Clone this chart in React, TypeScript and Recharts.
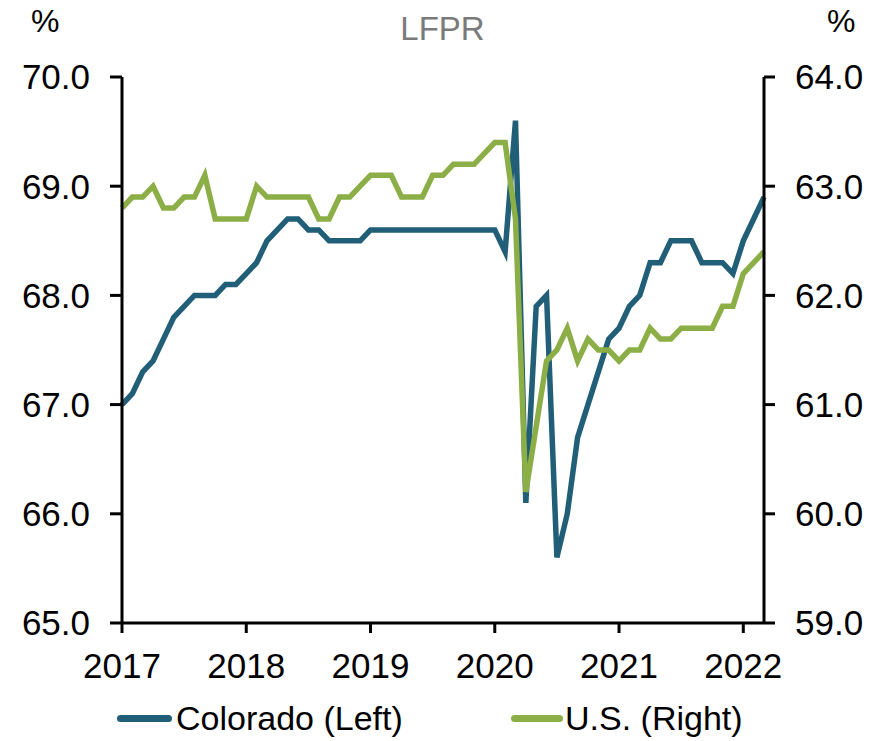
import React from 'react';
import { LineChart, Line, XAxis, YAxis } from 'recharts';

const startYear = 2017;
const yearTicks = [0, 12, 24, 36, 48, 60];
const leftTicks = [65, 66, 67, 68, 69, 70];
const rightTicks = [59, 60, 61, 62, 63, 64];

// Monthly, Jan 2017 - Mar 2022
const colorado = [
  67.0, 67.1, 67.3, 67.4, 67.6, 67.8, 67.9, 68.0, 68.0, 68.0, 68.1, 68.1,
  68.2, 68.3, 68.5, 68.6, 68.7, 68.7, 68.6, 68.6, 68.5, 68.5, 68.5, 68.5,
  68.6, 68.6, 68.6, 68.6, 68.6, 68.6, 68.6, 68.6, 68.6, 68.6, 68.6, 68.6,
  68.6, 68.4, 69.6, 66.1, 67.9, 68.0, 65.6, 66.0, 66.7, 67.0, 67.3, 67.6,
  67.7, 67.9, 68.0, 68.3, 68.3, 68.5, 68.5, 68.5, 68.3, 68.3, 68.3, 68.2,
  68.5, 68.7, 68.9,
];

const us = [
  62.8, 62.9, 62.9, 63.0, 62.8, 62.8, 62.9, 62.9, 63.1, 62.7, 62.7, 62.7,
  62.7, 63.0, 62.9, 62.9, 62.9, 62.9, 62.9, 62.7, 62.7, 62.9, 62.9, 63.0,
  63.1, 63.1, 63.1, 62.9, 62.9, 62.9, 63.1, 63.1, 63.2, 63.2, 63.2, 63.3,
  63.4, 63.4, 62.7, 60.2, 60.8, 61.4, 61.5, 61.7, 61.4, 61.6, 61.5, 61.5,
  61.4, 61.5, 61.5, 61.7, 61.6, 61.6, 61.7, 61.7, 61.7, 61.7, 61.9, 61.9,
  62.2, 62.3, 62.4,
];

const data = colorado.map((c, i) => ({ i, colorado: c, us: us[i] }));

const COLO = '#215E78';
const USC = '#8BAE46';
const FONT = '"Liberation Sans", Arial, sans-serif';

export default function App() {
  const tickStyle = { fill: '#000', fontSize: 35, fontFamily: FONT };
  const axisLine = { stroke: '#000', strokeWidth: 3 };
  return (
    <div style={{ position: 'absolute', left: 0, top: 0, width: 885, height: 741, background: '#fff', fontFamily: FONT }}>
      <LineChart width={885} height={741} data={data} margin={{ top: 77, right: 0, left: 0, bottom: 58 }}>
        <XAxis
          dataKey="i"
          type="number"
          domain={[0, 62]}
          ticks={yearTicks}
          tickFormatter={(v: number) => String(startYear + v / 12)}
          height={60}
          tickSize={10}
          tickMargin={20}
          tick={tickStyle}
          axisLine={axisLine}
          tickLine={axisLine}
          interval={0}
        />
        <YAxis
          yAxisId="left"
          orientation="left"
          domain={[65, 70]}
          ticks={leftTicks}
          tickFormatter={(v: number) => v.toFixed(1)}
          width={122}
          tickSize={12}
          tickMargin={20}
          tick={tickStyle}
          axisLine={axisLine}
          tickLine={axisLine}
          interval={0}
        />
        <YAxis
          yAxisId="right"
          orientation="right"
          domain={[59, 64]}
          ticks={rightTicks}
          tickFormatter={(v: number) => v.toFixed(1)}
          width={121}
          tickSize={11}
          tickMargin={20}
          tick={tickStyle}
          axisLine={axisLine}
          tickLine={axisLine}
          interval={0}
        />
        <Line yAxisId="left" type="linear" dataKey="colorado" stroke={COLO} strokeWidth={5.5} dot={false} isAnimationActive={false} />
        <Line yAxisId="right" type="linear" dataKey="us" stroke={USC} strokeWidth={5.5} dot={false} isAnimationActive={false} />
      </LineChart>
      <div style={{ position: 'absolute', left: 31, top: 3, fontSize: 32, color: '#000' }}>%</div>
      <div style={{ position: 'absolute', left: 827, top: 3, fontSize: 32, color: '#000' }}>%</div>
      <div style={{ position: 'absolute', left: 0, width: 885, top: 10, textAlign: 'center', fontSize: 33, color: '#7a7a7a' }}>LFPR</div>
      <div style={{ position: 'absolute', left: 117, top: 696, display: 'flex', alignItems: 'center', fontSize: 34, color: '#000', lineHeight: '44px' }}>
        <span style={{ display: 'inline-block', width: 55, height: 7, borderRadius: 3.5, background: COLO, marginRight: 4 }} />
        <span>Colorado (Left)</span>
      </div>
      <div style={{ position: 'absolute', left: 511, top: 696, display: 'flex', alignItems: 'center', fontSize: 34, color: '#000', lineHeight: '44px' }}>
        <span style={{ display: 'inline-block', width: 52, height: 7, borderRadius: 3.5, background: USC, marginRight: 2 }} />
        <span>U.S. (Right)</span>
      </div>
    </div>
  );
}
